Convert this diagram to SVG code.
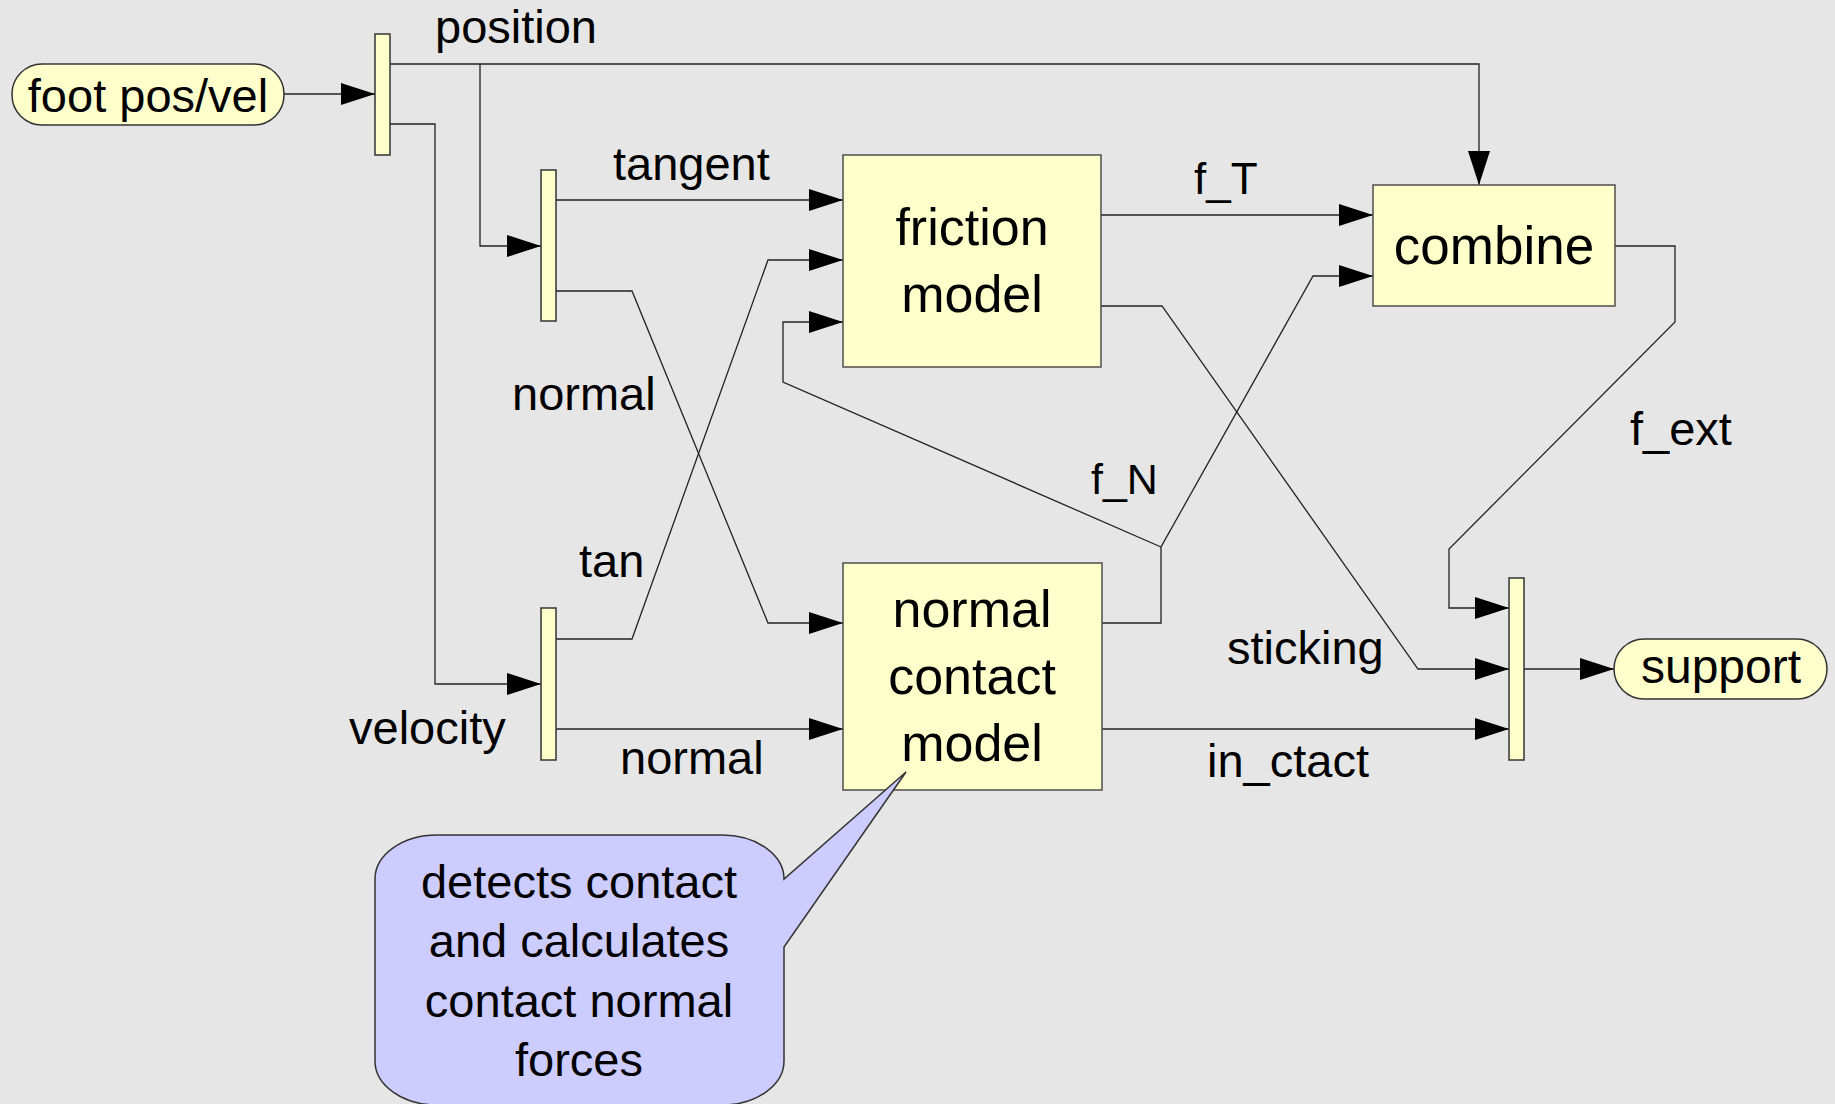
<svg xmlns="http://www.w3.org/2000/svg" width="1835" height="1104" viewBox="0 0 1835 1104">
  <defs>
    <marker id="arr" markerUnits="userSpaceOnUse" markerWidth="34" markerHeight="22" refX="34" refY="11" orient="auto">
      <path d="M0,0 L34,11 L0,22 Z" fill="#000"/>
    </marker>
    <style>
      .bg { fill: #e6e6e6; }
      .box { fill: #ffffcc; stroke: #4d4d4d; stroke-width: 1.5; }
      .pill { fill: #ffffcc; stroke: #333; stroke-width: 1.5; }
      .split { fill: #ffffcc; stroke: #333; stroke-width: 1.5; }
      .callout { fill: #ccccff; stroke: #333; stroke-width: 1.5; }
      .wire { fill: none; stroke: #222; stroke-width: 1.3; marker-end: url(#arr); }
      .wire-plain { fill: none; stroke: #222; stroke-width: 1.3; }
      text { font-family: "Liberation Sans", Arial, sans-serif; fill: #000; }
      .lbl { font-size: 47px; }
      .big { font-size: 52px; text-anchor: middle; }
      .mid { text-anchor: middle; }
    </style>
  </defs>
  <rect class="bg" x="0" y="0" width="1835" height="1104"/>

  <g id="connectors">
    <path class="wire" d="M284,94 H375"/>
    <path class="wire" d="M390,64 H1479 V185"/>
    <path class="wire" d="M480,64 V246 H541"/>
    <path class="wire" d="M390,124 H435 V684 H541"/>
    <path class="wire" d="M556,200 H843"/>
    <path class="wire" d="M556,291 H632 L768,623 H843"/>
    <path class="wire" d="M556,639 H632 L768,260 H843"/>
    <path class="wire" d="M556,729 H843"/>
    <path class="wire" d="M1101,215 H1373"/>
    <path class="wire" d="M1101,306 H1162 L1418,669 H1509"/>
    <path class="wire" d="M1102,623 H1161 V547 L1313,276 H1373"/>
    <path class="wire" d="M1161,547 L783,382 V322 H843"/>
    <path class="wire" d="M1102,729 H1509"/>
    <path class="wire" d="M1615,246 H1675 V322 L1449,549 V608 H1509"/>
    <path class="wire" d="M1524,669 H1614"/>
  </g>

  <g id="edge-labels">
    <text class="lbl" x="435" y="43">position</text>
    <text class="lbl" x="613" y="180">tangent</text>
    <text class="lbl" x="512" y="410">normal</text>
    <text class="lbl" x="579" y="577">tan</text>
    <text class="lbl" x="349" y="744">velocity</text>
    <text class="lbl" x="620" y="774">normal</text>
    <text x="1194" y="194" font-size="44">f_T</text>
    <text x="1091" y="494" font-size="43">f_N</text>
    <text class="lbl" x="1227" y="664">sticking</text>
    <text class="lbl" x="1207" y="777">in_ctact</text>
    <text class="lbl" x="1630" y="445">f_ext</text>
  </g>

  <g id="foot">
    <rect class="pill" x="12" y="64" width="272" height="61" rx="30" ry="30"/>
    <text class="lbl mid" x="148" y="112">foot pos/vel</text>
  </g>

  <g id="split1"><rect class="split" x="375" y="34" width="15" height="121"/></g>
  <g id="split2"><rect class="split" x="541" y="170" width="15" height="151"/></g>
  <g id="split3"><rect class="split" x="541" y="608" width="15" height="152"/></g>
  <g id="split4"><rect class="split" x="1509" y="578" width="15" height="182"/></g>

  <g id="friction">
    <rect class="box" x="843" y="155" width="258" height="212"/>
    <text class="big" x="972" y="245">friction</text>
    <text class="big" x="972" y="312">model</text>
  </g>

  <g id="contact">
    <rect class="box" x="843" y="563" width="259" height="227"/>
    <text class="big" x="972" y="627">normal</text>
    <text class="big" x="972" y="694">contact</text>
    <text class="big" x="972" y="761">model</text>
  </g>

  <g id="combine">
    <rect class="box" x="1373" y="185" width="242" height="121"/>
    <text class="mid" x="1494" y="264" font-size="53">combine</text>
  </g>

  <g id="support">
    <rect class="pill" x="1614" y="639" width="213" height="60" rx="30" ry="30"/>
    <text class="mid" x="1721" y="683" font-size="48">support</text>
  </g>

  <g id="note">
    <path class="callout" d="M437,835 H722 A62,44 0 0 1 784,879 L906,772 L784,947 V1061 A62,44 0 0 1 722,1105 H437 A62,44 0 0 1 375,1061 V879 A62,44 0 0 1 437,835 Z"/>
    <text class="lbl mid" x="579" y="898">detects contact</text>
    <text class="lbl mid" x="579" y="957">and calculates</text>
    <text class="lbl mid" x="579" y="1017">contact normal</text>
    <text class="lbl mid" x="579" y="1076">forces</text>
  </g>
</svg>
